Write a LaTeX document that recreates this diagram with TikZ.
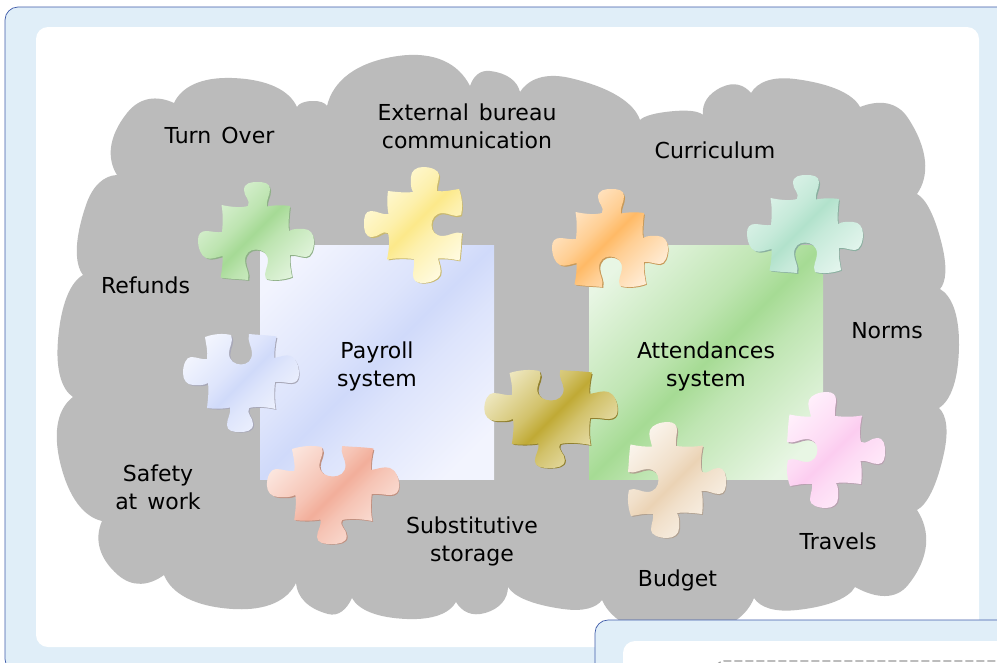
\documentclass[tikz,border=0pt]{standalone}
\usepackage{fontspec}
\setmainfont[WordSpace=1.45]{DejaVu Sans}
\definecolor{pcl}{HTML}{FFFFFF}
\definecolor{pcm}{HTML}{DDDDDD}
\definecolor{pcd}{HTML}{BBBBBB}
\pgfdeclareverticalshading[pcl,pcm,pcd]{band}{100bp}{color(0bp)=(pcl); color(22bp)=(pcl); color(42bp)=(pcm); color(50bp)=(pcd); color(58bp)=(pcm); color(78bp)=(pcl); color(100bp)=(pcl)}
\newcommand{\cloudacc}{}
\newcommand{\cloudlobe}[6]{%
 \pgfmathsetmacro\lobedx{#5-#1}\pgfmathsetmacro\lobedy{#6-#2}%
 \pgfmathsetmacro\lobelen{veclen(\lobedx,\lobedy)}%
 \pgfmathsetmacro\lobeux{\lobedx/\lobelen}\pgfmathsetmacro\lobeuy{\lobedy/\lobelen}%
 \pgfmathsetmacro\lobeta{(#3-#1)*\lobeux+(#4-#2)*\lobeuy}%
 \pgfmathsetmacro\lobetb{(#5-#3)*\lobeux+(#6-#4)*\lobeuy}%
 \pgfmathsetmacro\lobenx{#3-#1-\lobeta*\lobeux}\pgfmathsetmacro\lobeny{#4-#2-\lobeta*\lobeuy}%
 \pgfmathsetmacro\lobeax{#1+.6*\lobenx+.12*\lobeta*\lobeux}\pgfmathsetmacro\lobeay{#2+.6*\lobeny+.12*\lobeta*\lobeuy}%
 \pgfmathsetmacro\lobebx{#3-.55*\lobeta*\lobeux}\pgfmathsetmacro\lobeby{#4-.55*\lobeta*\lobeuy}%
 \pgfmathsetmacro\lobecx{#3+.55*\lobetb*\lobeux}\pgfmathsetmacro\lobecy{#4+.55*\lobetb*\lobeuy}%
 \pgfmathsetmacro\lobedxx{#5+.6*\lobenx-.12*\lobetb*\lobeux}\pgfmathsetmacro\lobedyy{#6+.6*\lobeny-.12*\lobetb*\lobeuy}%
 \xdef\cloudacc{\cloudacc .. controls (\lobeax,\lobeay) and (\lobebx,\lobeby) .. (#3,#4) .. controls (\lobecx,\lobecy) and (\lobedxx,\lobedyy) .. (#5,#6) }%
}
\newcommand{\piecepath}{(-34.5,38) .. controls (-25,36) and (-15,35) .. (-8,37)
 .. controls (-5,43) and (-12,46) .. (-12,53) .. controls (-12,60) and (-5,61) .. (1,61)
 .. controls (8,61) and (14,60) .. (14,54) .. controls (14,47) and (10,44) .. (11,36.5)
 .. controls (18,38) and (27,38) .. (34,37)
 .. controls (33,28) and (32,20) .. (33,12) .. controls (38,15) and (44,14) .. (48,14)
 .. controls (54,14) and (58,9) .. (58,2) .. controls (58,-6) and (55,-14) .. (50,-14)
 .. controls (44,-14) and (39,-11) .. (34,-12) .. controls (33,-20) and (35,-27) .. (36,-34)
 .. controls (28,-37) and (18,-38) .. (10,-36) .. controls (7,-30) and (12,-24) .. (12,-18)
 .. controls (12,-10) and (6,-6.5) .. (0,-6.5) .. controls (-6,-6.5) and (-11,-10) .. (-11,-18)
 .. controls (-11,-24) and (-6,-30) .. (-8,-37) .. controls (-17,-36) and (-27,-36) .. (-35.5,-34.5)
 .. controls (-34,-27) and (-33,-20) .. (-33.5,-13) .. controls (-39,-14) and (-45,-17) .. (-50,-15)
 .. controls (-55,-13) and (-58,-5) .. (-58,3) .. controls (-58,9) and (-55,12) .. (-50,12)
 .. controls (-45,12) and (-39,10) .. (-34,11) .. controls (-33,20) and (-33,30) .. (-34.5,38) -- cycle}
% #1 x, #2 y, #3 rotation, #4 light, #5 dark, #6 edge, #7 x scale
\newcommand{\puzzlepiece}[7]{%
 \definecolor{pcl}{HTML}{#4}\definecolor{pcd}{HTML}{#5}\colorlet{pcm}{pcd!62!pcl}\definecolor{pce}{HTML}{#6}%
 \begin{scope}[shift={(#1+1.2,#2+1.2)},y=1pt,xscale=#7,scale=.99,rotate=#3]\fill[pce] \piecepath;\end{scope}%
 \begin{scope}[shift={(#1,#2)},y=1pt,xscale=#7,rotate=#3]\shade[shading=band,shading angle=45] \piecepath;\end{scope}%
}
\tikzset{
 x=1pt,y=-1pt,
 lbl/.style={font=\fontsize{22}{28}\selectfont,align=center,text=black,inner sep=0pt,anchor=south,text depth=0pt},
 panel/.style={fill=panelblue,draw=panelline,line width=.7pt,rounded corners=13pt},
 inner panel/.style={fill=white,rounded corners=12pt},
 system square/.style={shading=band,shading angle=45}
}
\definecolor{panelblue}{HTML}{E0EEF8}
\definecolor{panelline}{HTML}{3F5BA9}
\definecolor{cloudgray}{HTML}{BBBBBB}
\begin{document}
\begin{tikzpicture}
\useasboundingbox (0,0) rectangle (997,662);
\clip (0,0) rectangle (997,662);
\fill[white] (0,0) rectangle (997,662);
\draw[panel] (5,7) rectangle (1100,672);
\fill[inner panel] (36,27) rectangle (979,647);
% cloud
\cloudlobe{117}{175}{127}{113}{174}{103}
\cloudlobe{174}{103}{232}{78}{297}{107}
\cloudlobe{297}{107}{312}{101}{327}{106}
\cloudlobe{327}{106}{398}{56}{470}{86}
\cloudlobe{470}{86}{490}{71}{520}{92}
\cloudlobe{520}{92}{570}{78}{640}{120}
\cloudlobe{640}{120}{675}{111}{703}{115}
\cloudlobe{703}{115}{722}{87}{751}{93}
\cloudlobe{751}{93}{795}{79}{860}{107}
\cloudlobe{860}{107}{908}{118}{917}{194}
\cloudlobe{917}{194}{942}{245}{940}{289}
\cloudlobe{940}{289}{959}{345}{939}{408}
\cloudlobe{939}{408}{944}{453}{917}{510}
\cloudlobe{917}{510}{908}{585}{855}{587}
\cloudlobe{855}{587}{797}{610}{754}{598}
\cloudlobe{754}{598}{680}{635}{602}{600}
\cloudlobe{602}{600}{563}{609}{508}{587}
\cloudlobe{508}{587}{485}{613}{456}{602}
\cloudlobe{456}{602}{407}{619}{352}{598}
\cloudlobe{352}{598}{328}{614}{296}{583}
\cloudlobe{296}{583}{233}{609}{164}{575}
\cloudlobe{164}{575}{118}{575}{102}{521}
\cloudlobe{102}{521}{60}{462}{73}{397}
\cloudlobe{73}{397}{58}{340}{83}{275}
\cloudlobe{83}{275}{86}{205}{117}{175}
\fill[cloudgray] (117,175) \cloudacc -- cycle;
% system squares
\definecolor{pcl}{HTML}{F2F4FE}\definecolor{pcd}{HTML}{D0DAFA}\colorlet{pcm}{pcd!62!pcl}
\shade[system square] (260,245) rectangle (494,479);
\definecolor{pcl}{HTML}{E8F6E4}\definecolor{pcd}{HTML}{A6DB94}\colorlet{pcm}{pcd!62!pcl}
\shade[system square] (589,245) rectangle (823,479);
% pieces
\puzzlepiece{256}{243}{0}{E4F5DF}{A6DA95}{8FB088}{1}
\puzzlepiece{425}{225}{90}{FFFCE6}{FCE98A}{C9B970}{1}
\puzzlepiece{610}{250}{0}{FFF0DE}{FFBA66}{C89A5A}{1}
\puzzlepiece{805}{236}{0}{E6F6EF}{B2E2CC}{8AAFA0}{1}
\puzzlepiece{241}{371}{180}{F5F7FE}{D0DAFA}{A8A8B8}{1}
\puzzlepiece{333}{483}{180}{FCE9E2}{F2AE9A}{C09080}{1.14}
\puzzlepiece{551}{407}{180}{F0EAC6}{C0AA35}{908030}{1.15}
\puzzlepiece{665}{480}{-90}{FBF6EF}{EBD3B5}{B0A090}{1}
\puzzlepiece{824}{450}{-90}{FFF2FC}{FCCDF0}{B8A0B0}{1}
% labels (position = last baseline)
\node[lbl] (turnover) at (219.5,144) {Turn Over};
\node[lbl] (external) at (467,149) {External bureau\\communication};
\node[lbl] (curriculum) at (715,159) {Curriculum};
\node[lbl] (refunds) at (145.5,294) {Refunds};
\node[lbl] (payroll) at (377,387) {Payroll\\system};
\node[lbl] (attendances) at (706,387) {Attendances\\system};
\node[lbl] (norms) at (887,339) {Norms};
\node[lbl] (safety) at (158,510) {Safety\\at work};
\node[lbl] (storage) at (472,562) {Substitutive\\storage};
\node[lbl] (budget) at (677.5,587) {Budget};
\node[lbl] (travels) at (838,550) {Travels};
% second panel
\draw[panel] (595,620) rectangle (1100,800);
\fill[inner panel] (623,641) rectangle (1100,800);
\draw[color=gray!80,line width=1.2pt,dash pattern=on 8pt off 3pt,rounded corners=8pt] (716,661) rectangle (1100,800);
\end{tikzpicture}
\end{document}
